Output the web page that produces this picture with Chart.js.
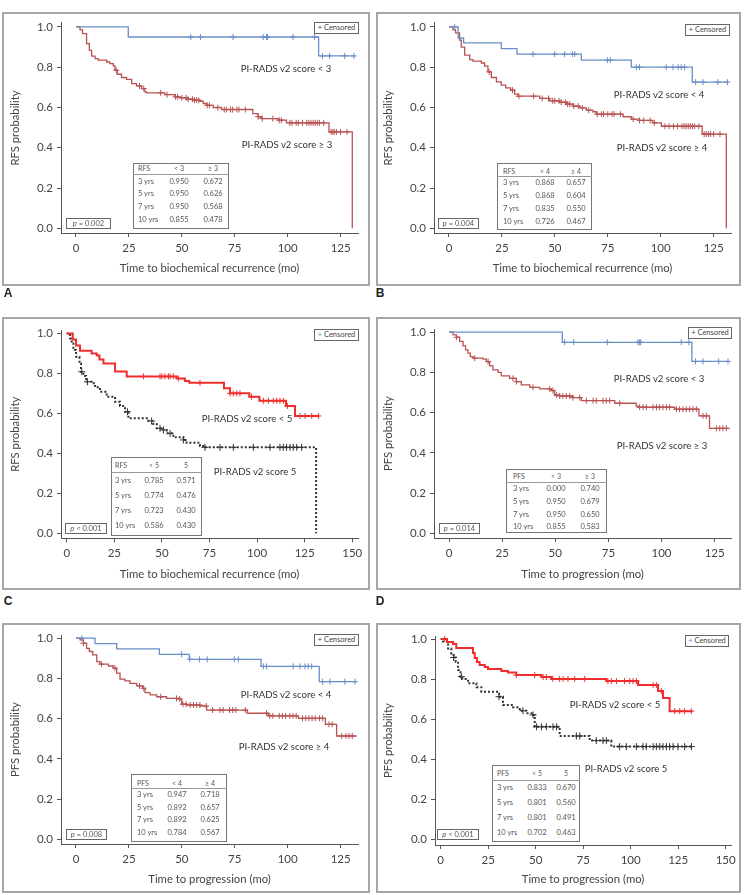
<!DOCTYPE html>
<html lang="en">
<head>
<meta charset="UTF-8">
<title>PI-RADS v2 Kaplan-Meier curves</title>
<script src="https://cdn.jsdelivr.net/npm/chart.js"></script>
<style>
  body { margin: 0; width: 746px; height: 895px; position: relative; background: #fff; overflow: hidden; }
  .frame { position: absolute; border: 2px solid #a6a6a6; box-sizing: border-box; pointer-events: none; }
  .wrap { position: absolute; }
  .t { position: absolute; white-space: nowrap; color: #444; line-height: 1; }
  .box { position: absolute; border: 1px solid #666; box-sizing: border-box; background: #fff; }
</style>
</head>
<body>
<script>
// ---- data ----
const ticks125 = [0, 25, 50, 75, 100, 125];
const ticks150 = [0, 25, 50, 75, 100, 125, 150];
const yTicks = [0, 0.2, 0.4, 0.6, 0.8, 1.0];
const tabRows = ['3 yrs', '5 yrs', '7 yrs', '10 yrs'];

// A: RFS, score < 3 vs >= 3
const aLowT = [0, 24.7, 114.6, 131.5];
const aLowS = [1, 0.950, 0.856, 0.856];
const aLowCens = [54.2, 58.8, 74.2, 88.4, 90, 90.5, 102.5, 112.7, 116.4, 119.8, 126.9, 131.3];
const aHighT = [0, 1.9, 3.1, 5.0, 6.3, 7.4, 9.0, 10.5, 14.5, 16.0, 17.6, 18.4, 19.5, 21.5, 23.9, 26.3, 28.6, 31.0, 32.5, 33.3,
  42.0, 46.7, 49.1, 53.0, 55.3, 58.5, 60.1, 61.6, 64.8, 68.7, 83.5, 86.0, 87.6, 95.4, 99.4, 119.5, 130.5];
const aHighS = [1, 0.985, 0.967, 0.917, 0.884, 0.855, 0.843, 0.835, 0.826, 0.818, 0.807, 0.785, 0.765, 0.749, 0.740, 0.719, 0.707, 0.694, 0.678, 0.673,
  0.664, 0.653, 0.648, 0.641, 0.636, 0.631, 0.620, 0.611, 0.600, 0.590, 0.570, 0.554, 0.545, 0.537, 0.524, 0.479, 0];
const aHighCens = [19, 30, 32, 40, 43, 47, 48, 50, 52, 53, 55, 56, 57, 58, 62, 63, 67, 70, 71, 73, 74, 76, 77, 80, 86, 88, 93, 96, 97,
  101, 102, 104, 105, 107, 109, 110, 111, 112, 113, 114, 115, 117, 120.5, 121.3, 122, 123, 125, 128];
const aTabLow = ['0.950', '0.950', '0.950', '0.855'];
const aTabHigh = ['0.672', '0.626', '0.568', '0.478'];

// B: RFS, score < 4 vs >= 4
const bLowT = [0, 4.3, 6.9, 24.7, 32.1, 62.5, 86.1, 114.9, 132];
const bLowS = [1, 0.945, 0.921, 0.892, 0.865, 0.835, 0.800, 0.726, 0.726];
const bLowCens = [2.7, 39.7, 49.9, 54.6, 58.3, 59.4, 74.8, 76.2, 88.5, 90, 102.6, 105.8, 108.2, 109.7, 111.3, 116.5, 120, 127, 131.5];
const bHighT = [0, 1.9, 3.1, 5.0, 5.8, 7.4, 9.8, 11.3, 15.3, 16.8, 18.4, 20.0, 22.4, 24.7, 26.8, 29.1, 31.0, 32.6, 42.8, 47.5,
  52.3, 55.4, 58.6, 61.7, 64.9, 68.0, 69.6, 82.2, 86.1, 90.0, 96.3, 100.3, 119.6, 131];
const bHighS = [1, 0.985, 0.970, 0.934, 0.900, 0.860, 0.838, 0.830, 0.821, 0.805, 0.777, 0.749, 0.727, 0.711, 0.697, 0.686, 0.666, 0.656, 0.645, 0.633,
  0.626, 0.617, 0.607, 0.598, 0.587, 0.579, 0.567, 0.554, 0.542, 0.536, 0.524, 0.507, 0.468, 0];
const bHighCens = [19, 30, 33, 40, 44, 47, 49, 50, 52, 53, 55, 56, 57, 59, 61, 63, 66, 70, 72, 73, 75, 77, 78, 81, 87, 90, 92, 95, 97,
  102, 104, 106, 108, 110, 111, 112, 113, 114, 115, 116, 118, 120.5, 121.5, 122.5, 123.5, 125, 128];
const bTabLow = ['0.868', '0.868', '0.835', '0.726'];
const bTabHigh = ['0.657', '0.604', '0.550', '0.467'];

// C: RFS, score < 5 vs 5
const cLowT = [0, 3.2, 4.9, 7.0, 13.1, 15.8, 17.2, 19.3, 25.4, 31.5, 57.8, 62.1, 64.4, 82.6, 85.8, 95.9, 101.2, 115.2, 119.9, 132.7];
const cLowS = [1, 0.970, 0.940, 0.913, 0.900, 0.890, 0.870, 0.850, 0.810, 0.785, 0.775, 0.762, 0.753, 0.725, 0.700, 0.683, 0.663, 0.637, 0.587, 0.587];
const cLowCens = [40.3, 49, 50, 51.6, 53.4, 54.3, 56, 58.6, 70, 85.8, 87.5, 89.3, 91, 97.1, 103.3, 105.9, 108.5, 110.3, 112, 113.8, 115.9,
  122.5, 125.2, 128.7, 132.2];
const cHighT = [0, 1.75, 2.6, 3.5, 4.9, 6.7, 7.5, 8.8, 10.2, 13.1, 14.9, 17.5, 21.0, 25.4, 28.0, 30.6, 32.4, 42.9, 45.5, 47.3,
  50.8, 52.5, 56.0, 61.3, 63.0, 70.0, 71.8, 131.0];
const cHighS = [1, 0.975, 0.950, 0.917, 0.883, 0.850, 0.808, 0.787, 0.758, 0.750, 0.730, 0.708, 0.683, 0.658, 0.637, 0.608, 0.575, 0.562, 0.547, 0.525,
  0.517, 0.500, 0.480, 0.467, 0.453, 0.437, 0.430, 0];
const cHighCens = [7.9, 10.9, 31.9, 44.6, 49, 50.8, 54.3, 61.3, 72.6, 80.5, 87.5, 98, 106.8, 112, 113.8, 115.5, 117.3, 119, 120.8, 123.4];
const cTabLow = ['0.785', '0.774', '0.723', '0.586'];
const cTabHigh = ['0.571', '0.476', '0.430', '0.430'];

// D: PFS, score < 3 vs >= 3
const dLowT = [0, 53.3, 114.3, 131.7];
const dLowS = [1, 0.950, 0.855, 0.855];
const dLowCens = [54.4, 58.7, 74.5, 88.9, 89.7, 90.2, 109.3, 112.9, 116, 119.5, 126.9, 131.3];
const dHighT = [0, 1.9, 3.5, 5.0, 6.6, 7.8, 8.9, 10.0, 11.3, 16.0, 17.6, 19.1, 20.7, 23.1, 24.6, 28.5, 31.7, 34.0, 38.0, 42.7,
  48.2, 49.7, 52.1, 58.3, 62.3, 78.0, 88.1, 89.0, 106.2, 117.6, 122.6, 132];
const dHighS = [1, 0.987, 0.975, 0.954, 0.932, 0.912, 0.896, 0.879, 0.871, 0.866, 0.854, 0.833, 0.813, 0.800, 0.783, 0.771, 0.754, 0.738, 0.726, 0.718,
  0.710, 0.688, 0.683, 0.675, 0.660, 0.647, 0.633, 0.627, 0.617, 0.584, 0.522, 0.522];
const dHighCens = [3.5, 12.1, 18.4, 30.1, 31.7, 39.5, 47.4, 48.9, 50.5, 52.1, 53.6, 55.2, 56.8, 58.3, 61.5, 64.6, 67.8, 69.3, 72.5, 74, 75.6,
  80.3, 89.7, 91.3, 92.9, 96, 97.6, 99.1, 100.7, 102.3, 103.8, 107, 108.5, 110.1, 111.7, 113.2, 114.8, 116.4, 119.5, 121.1, 125.8, 127.4, 128.9, 130.5];
const dTabLow = ['0.000', '0.950', '0.950', '0.855'];
const dTabHigh = ['0.740', '0.679', '0.650', '0.583'];

// E: PFS, score < 4 vs >= 4
const eLowT = [0, 9.0, 19.2, 39.4, 53.5, 87.4, 114.9, 132.2];
const eLowS = [1, 0.973, 0.947, 0.920, 0.895, 0.860, 0.784, 0.784];
const eLowCens = [2.7, 49.9, 53.8, 58.3, 62, 74.8, 76.7, 88.5, 90, 102.6, 105.8, 108.2, 109.7, 111.3, 116.5, 120, 127, 131.8];
const eHighT = [0, 1.9, 3.5, 5.0, 6.3, 7.9, 9.8, 11.3, 15.3, 17.6, 19.2, 20.8, 23.1, 25.5, 28.7, 31.5, 32.6, 35.0, 38.1, 42.8,
  48.3, 49.9, 52.3, 58.6, 61.7, 80.9, 90.8, 105.0, 117.8, 123.1, 132.6];
const eHighS = [1, 0.992, 0.975, 0.950, 0.934, 0.917, 0.884, 0.871, 0.862, 0.851, 0.826, 0.797, 0.788, 0.776, 0.763, 0.751, 0.730, 0.718, 0.709, 0.701,
  0.698, 0.672, 0.668, 0.663, 0.643, 0.627, 0.614, 0.602, 0.572, 0.514, 0.514];
const eHighCens = [3.5, 12, 18.4, 30, 32, 40, 47.5, 49, 50.5, 52, 54, 55.5, 57, 58.5, 61.5, 64.5, 68, 69.5, 72.5, 74, 75.5, 80, 90, 91.5, 93,
  96, 97.5, 99, 101, 102.5, 104, 107, 108.5, 110, 111.5, 113, 115, 116.5, 119.5, 121, 125.5, 127.5, 129, 130.5];
const eTabLow = ['0.947', '0.892', '0.892', '0.784'];
const eTabHigh = ['0.718', '0.657', '0.625', '0.567'];

// F: PFS, score < 5 vs 5
const fLowT = [0, 3.3, 6.5, 8.2, 17.0, 17.9, 19.1, 20.5, 23.2, 24.9, 31.9, 35.4, 39.8, 53.0, 58.2, 87.2, 103.9, 114.4, 117.0, 120.5, 132.5];
const fLowS = [1, 0.985, 0.975, 0.955, 0.930, 0.905, 0.885, 0.870, 0.860, 0.850, 0.840, 0.833, 0.820, 0.810, 0.801, 0.790, 0.770, 0.740, 0.705, 0.640, 0.640];
const fLowCens = [2.1, 39.8, 49.5, 53.9, 55.6, 59, 62.6, 64.4, 67, 70.5, 75.8, 88, 89.8, 92.5, 96.8, 99.5, 101.2, 103, 111.8, 113.5, 116.1,
  123.2, 125.8, 128.4, 131.9];
const fHighT = [0, 1.2, 3.9, 5.6, 6.8, 7.9, 9.1, 10.4, 11.4, 14.4, 18.8, 21.4, 30.7, 32.8, 38.1, 41.6, 45.1, 48.6, 49.5, 62.6, 78.4, 89.8, 132.5];
const fHighS = [1, 0.987, 0.953, 0.928, 0.908, 0.887, 0.845, 0.812, 0.800, 0.779, 0.759, 0.737, 0.712, 0.671, 0.659, 0.642, 0.630, 0.621, 0.562, 0.516, 0.493, 0.463, 0.463];
const fHighCens = [6.8, 10.9, 30.7, 43.3, 48.6, 50.4, 53, 55.6, 59.1, 61, 71.4, 73.2, 81.9, 85.4, 87.2, 94.2, 97.7, 103, 106.5, 108.2, 111.8,
  113.5, 115.3, 117, 118.8, 120.5, 122.3, 124.9, 128.4, 132];
const fTabLow = ['0.833', '0.801', '0.801', '0.702'];
const fTabHigh = ['0.670', '0.560', '0.491', '0.463'];

// ---- styles ----
const FONT = "Lato, 'Liberation Sans', sans-serif";
const BLUE = 'rgb(105,142,200)';
const BROWN = 'rgb(185,82,82)';
const RED = 'rgb(240,45,45)';
const DARK = '#333';
const TICK_SIZE = 11.5;
const TITLE_SIZE = 11.3;
const LABEL_SIZE = 9.6;
const SMALL = 7.5;

const thin = (color) => ({ color, width: 1.3, dash: [], cross: 3 });
const thick = (color) => ({ color, width: 2, dash: [], cross: 3 });
const dotted = (color) => ({ color, width: 2, dash: [2, 2], cross: 3.5 });

const panels = [
  { letter: 'A', box: [2, 12, 370, 286], area: [61, 22.7, 358, 233], x: [-7.08, 133.2], y: [-0.023, 1.02], xTicks: ticks125,
    yTitle: 'RFS probability', xTitle: 'Time to biochemical recurrence (mo)', xTitleY: 268, yTitleX: 15,
    curves: [[aLowT, aLowS, aLowCens, thin(BLUE)], [aHighT, aHighS, aHighCens, thin(BROWN)]],
    cens: [314, 22, 359, 34], plus: '#444',
    labels: [[286, 69, 'PI-RADS v2 score < 3'], [287, 145, 'PI-RADS v2 score ≥ 3']],
    table: { rect: [133, 163, 229, 229], line: 174, rows: [168, 182, 194, 207, 220], cols: [138, 179, 213],
      head: ['RFS', '< 3', '≥ 3'], low: aTabLow, high: aTabHigh },
    p: [66, 218, 111, 228, '= 0.002'], tag: [8, 293] },
  { letter: 'B', box: [376, 12, 741, 286], area: [434, 22.7, 731, 233], x: [-7.08, 133.2], y: [-0.023, 1.02], xTicks: ticks125,
    yTitle: 'RFS probability', xTitle: 'Time to biochemical recurrence (mo)', xTitleY: 268, yTitleX: 388,
    curves: [[bLowT, bLowS, bLowCens, thin(BLUE)], [bHighT, bHighS, bHighCens, thin(BROWN)]],
    cens: [685, 24, 730, 36], plus: '#444',
    labels: [[659, 95, 'PI-RADS v2 score < 4'], [662, 148, 'PI-RADS v2 score ≥ 4']],
    table: { rect: [497, 163, 592, 230], line: 176, rows: [171, 183, 196, 209, 222], cols: [503, 545, 576],
      head: ['RFS', '< 4', '≥ 4'], low: bTabLow, high: bTabHigh },
    p: [438, 218, 479, 228, '= 0.004'], tag: [380, 293] },
  { letter: 'C', box: [2, 317, 370, 590], area: [61, 330, 358, 538.3], x: [-3.0, 153], y: [-0.025, 1.017], xTicks: ticks150,
    yTitle: 'RFS probability', xTitle: 'Time to biochemical recurrence (mo)', xTitleY: 574, yTitleX: 15,
    curves: [[cLowT, cLowS, cLowCens, thick(RED)], [cHighT, cHighS, cHighCens, dotted(DARK)]],
    cens: [314, 329, 359, 341], plus: BLUE,
    labels: [[247, 419, 'PI-RADS v2 score < 5'], [255, 472, 'PI-RADS v2 score 5']],
    table: { rect: [111, 457, 202, 536], line: 472, rows: [465, 481, 496, 511, 526], cols: [115, 154, 186],
      head: ['RFS', '< 5', '5'], low: cTabLow, high: cTabHigh },
    p: [65, 523, 107, 533, '< 0.001'], tag: [8, 601] },
  { letter: 'D', box: [376, 317, 741, 590], area: [434, 329, 731, 538], x: [-7.06, 132.7], y: [-0.023, 1.016], xTicks: ticks125,
    yTitle: 'PFS probability', xTitle: 'Time to progression (mo)', xTitleY: 574, yTitleX: 388,
    curves: [[dLowT, dLowS, dLowCens, thin(BLUE)], [dHighT, dHighS, dHighCens, thin(BROWN)]],
    cens: [688, 327, 732, 339], plus: '#444',
    labels: [[659, 379, 'PI-RADS v2 score < 3'], [662, 446, 'PI-RADS v2 score ≥ 3']],
    table: { rect: [506, 469, 607, 533], line: 482, rows: [476, 489, 502, 515, 527], cols: [513, 556, 590],
      head: ['PFS', '< 3', '≥ 3'], low: dTabLow, high: dTabHigh },
    p: [439, 523, 480, 533, '= 0.014'], tag: [380, 601] },
  { letter: 'E', box: [2, 623, 370, 893], area: [61, 635, 358, 844], x: [-7.08, 133.2], y: [-0.023, 1.016], xTicks: ticks125,
    yTitle: 'PFS probability', xTitle: 'Time to progression (mo)', xTitleY: 879, yTitleX: 15,
    curves: [[eLowT, eLowS, eLowCens, thin(BLUE)], [eHighT, eHighS, eHighCens, thin(BROWN)]],
    cens: [314, 634, 359, 646], plus: '#444',
    labels: [[286, 695, 'PI-RADS v2 score < 4'], [284, 747, 'PI-RADS v2 score ≥ 4']],
    table: { rect: [131, 774, 227, 842], line: 788, rows: [783, 795, 808, 820, 833], cols: [137, 177, 210],
      head: ['PFS', '< 4', '≥ 4'], low: eTabLow, high: eTabHigh },
    p: [66, 829, 107, 839, '= 0.008'], tag: null },
  { letter: 'F', box: [376, 623, 741, 893], area: [435, 636, 731, 845], x: [-3.0, 152.8], y: [-0.028, 1.015], xTicks: ticks150,
    yTitle: 'PFS probability', xTitle: 'Time to progression (mo)', xTitleY: 879, yTitleX: 388,
    curves: [[fLowT, fLowS, fLowCens, thick(RED)], [fHighT, fHighS, fHighCens, dotted(DARK)]],
    cens: [685, 635, 729, 647], plus: BLUE,
    labels: [[615, 705, 'PI-RADS v2 score < 5'], [626, 769, 'PI-RADS v2 score 5']],
    table: { rect: [492, 765, 580, 842], line: 780, rows: [773, 788, 803, 818, 833], cols: [497, 537, 566],
      head: ['PFS', '< 5', '5'], low: fTabLow, high: fTabHigh },
    p: [437, 829, 479, 839, '< 0.001'], tag: null }
];

// survival value at time t for a step curve
function survAt(T, S, t) {
  let v = S[0];
  for (let i = 0; i < T.length; i++) if (T[i] <= t) v = S[i];
  return v;
}

function el(tag, cls, css, html) {
  const d = document.createElement(tag);
  if (cls) d.className = cls;
  Object.assign(d.style, css);
  if (html !== undefined) d.innerHTML = html;
  document.body.appendChild(d);
  return d;
}

// text centred (align 'c') or left-aligned (align 'l') at a point
function txt(x, y, s, size, align, extra) {
  const tr = align === 'l' ? 'translate(0,-50%)' : 'translate(-50%,-50%)';
  return el('div', 't', Object.assign({ left: x + 'px', top: y + 'px', fontSize: size + 'px', fontFamily: FONT, transform: tr }, extra || {}), s);
}

function drawPanel(p) {
  const [bl, bt, br, bb] = p.box;
  const [al, at, ar, ab] = p.area;
  const w = br - bl, h = bb - bt;

  const wrap = el('div', 'wrap', { left: bl + 'px', top: bt + 'px', width: w + 'px', height: h + 'px' });
  const cv = document.createElement('canvas');
  cv.width = w; cv.height = h;
  cv.style.width = w + 'px'; cv.style.height = h + 'px';
  wrap.appendChild(cv);

  const datasets = [];
  p.curves.forEach(([T, S, C, st]) => {
    datasets.push({
      type: 'line', data: T.map((t, i) => ({ x: t, y: S[i] })), stepped: 'before',
      borderColor: st.color, borderWidth: st.width, borderDash: st.dash, pointRadius: 0, fill: false
    });
    datasets.push({
      type: 'scatter', data: C.map(t => ({ x: t, y: survAt(T, S, t) })),
      pointStyle: 'cross', pointRadius: st.cross, borderColor: st.color, backgroundColor: st.color, pointBorderWidth: 1
    });
  });

  const titleLh = TITLE_SIZE * 1.2;
  new Chart(cv, {
    data: { datasets },
    options: {
      responsive: false, animation: false, devicePixelRatio: 1, events: [],
      layout: { padding: { left: 0, top: at - bt, right: br - ar, bottom: 0 } },
      plugins: { legend: { display: false }, tooltip: { enabled: false } },
      scales: {
        x: {
          type: 'linear', min: p.x[0], max: p.x[1],
          afterBuildTicks: s => { s.ticks = p.xTicks.map(v => ({ value: v })); },
          afterFit: s => { s.height = bb - ab; },
          grid: { drawOnChartArea: false, tickLength: 4, color: '#555', tickColor: '#555' },
          border: { display: true, color: '#555', width: 1 },
          ticks: { autoSkip: false, maxRotation: 0, padding: 4, color: '#444', font: { size: TICK_SIZE, family: FONT } },
          title: { display: true, text: p.xTitle, color: '#444', font: { size: TITLE_SIZE, family: FONT },
            padding: { top: 0, bottom: bb - p.xTitleY - titleLh / 2 } }
        },
        y: {
          type: 'linear', min: p.y[0], max: p.y[1],
          afterBuildTicks: s => { s.ticks = yTicks.map(v => ({ value: v })); },
          afterFit: s => { s.width = al - bl; },
          grid: { drawOnChartArea: false, tickLength: 4, color: '#555', tickColor: '#555' },
          border: { display: true, color: '#555', width: 1 },
          ticks: { autoSkip: false, padding: 4, color: '#444', font: { size: TICK_SIZE, family: FONT },
            callback: v => v.toFixed(1) },
          title: { display: true, text: p.yTitle, color: '#444', font: { size: TITLE_SIZE, family: FONT },
            padding: { top: p.yTitleX - bl - titleLh / 2, bottom: 0 } }
        }
      }
    }
  });

  // frame
  el('div', 'frame', { left: bl + 'px', top: bt + 'px', width: w + 'px', height: h + 'px' });

  // censored key
  const [cl, ct, cr, cb] = p.cens;
  el('div', 'box', { left: cl + 'px', top: ct + 'px', width: (cr - cl) + 'px', height: (cb - ct) + 'px' });
  txt((cl + cr) / 2, (ct + cb) / 2, '<span style="color:' + p.plus + '">+</span> Censored', SMALL);

  // curve labels
  p.labels.forEach(([x, y, s]) => txt(x, y, s, LABEL_SIZE, 'c', { color: '#333' }));

  // survival table
  const tb = p.table;
  const [tl, tt, tr, tbm] = tb.rect;
  el('div', 'box', { left: tl + 'px', top: tt + 'px', width: (tr - tl) + 'px', height: (tbm - tt) + 'px', borderColor: '#777' });
  el('div', '', { position: 'absolute', left: tl + 'px', top: tb.line + 'px', width: (tr - tl) + 'px', height: '1px', background: '#999' });
  txt(tb.cols[0], tb.rows[0], tb.head[0], SMALL - 0.5, 'l', { color: '#555' });
  txt(tb.cols[1], tb.rows[0], tb.head[1], SMALL - 0.5, 'c', { color: '#555' });
  txt(tb.cols[2], tb.rows[0], tb.head[2], SMALL - 0.5, 'c', { color: '#555' });
  tabRows.forEach((r, i) => {
    txt(tb.cols[0], tb.rows[i + 1], r, SMALL, 'l', { color: '#555' });
    txt(tb.cols[1], tb.rows[i + 1], tb.low[i], SMALL, 'c', { color: '#555' });
    txt(tb.cols[2], tb.rows[i + 1], tb.high[i], SMALL, 'c', { color: '#555' });
  });

  // p-value box
  const [pl, pt, pr, pb, ps] = p.p;
  el('div', 'box', { left: pl + 'px', top: pt + 'px', width: (pr - pl) + 'px', height: (pb - pt + 1) + 'px' });
  txt((pl + pr) / 2, (pt + pb) / 2 + 0.5, '<i>p</i> ' + ps, SMALL, 'c', { color: '#555' });

  // panel letter
  if (p.tag) txt(p.tag[0], p.tag[1], p.letter, 12, 'c', { fontWeight: 'bold', color: '#222', fontFamily: "'Liberation Sans', Arial, sans-serif" });
}

panels.forEach(drawPanel);
</script>
</body>
</html>
